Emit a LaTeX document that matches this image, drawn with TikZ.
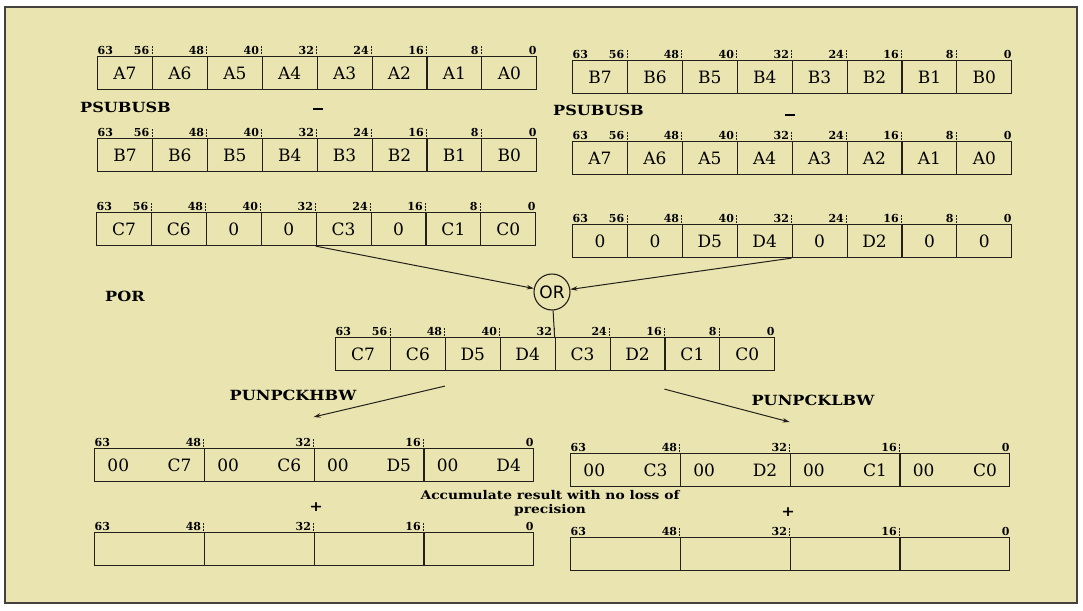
\documentclass[tikz,border=0pt]{standalone}
\usepackage{fontspec}
\setmainfont{DejaVu Serif}
\setsansfont{DejaVu Sans}
\newfontfamily\opfont[FakeStretch=1.15]{DejaVu Serif}
\usetikzlibrary{arrows.meta}

\definecolor{paper}{RGB}{234,229,176}
\definecolor{ink}{RGB}{35,32,28}

\tikzset{
    cell/.style={draw=ink, line width=1.1pt, minimum width=54.9pt, minimum height=33pt,
        inner sep=0pt, anchor=north west, font=\fontsize{17}{19}\selectfont},
    wcell/.style={cell, minimum width=109.8pt, text width=84pt},
    bitnum/.style={inner sep=0.5pt, font=\fontsize{11}{12}\selectfont\bfseries},
    tick/.style={draw=ink, line width=0.8pt, dash pattern=on 2pt off 1pt},
    opname/.style={inner sep=0pt, font=\fontsize{14}{16}\selectfont\opfont\bfseries},
    conn/.style={draw=ink, line width=1pt, -{Stealth[length=7pt,width=4.5pt]}},
}

% 64-bit register of eight bytes: name, left, top, cell texts
\newcommand{\bytereg}[4]{%
    \foreach \t [count=\i from 0] in {#4}{
        \node[cell] (#1\i) at ({#2+\i*54.9},#3) {\t};
    }
    \foreach \b [count=\i from 1] in {56,48,40,32,24,16,8}{
        \draw[tick] ([yshift=1.5pt]#1\i.north west) -- ([yshift=9.5pt]#1\i.north west);
        \node[bitnum, anchor=south east] (#1b\b) at ([xshift=-2pt,yshift=1pt]#1\i.north west) {\b};
    }
    \node[bitnum, anchor=south west] (#1b63) at ([yshift=1pt]#10.north west) {63};
    \node[bitnum, anchor=south east] (#1b0) at ([yshift=1pt]#17.north east) {0};
}
% 64-bit register of four words
\newcommand{\wordreg}[4]{%
    \foreach \t [count=\i from 0] in {#4}{
        \node[wcell] (#1\i) at ({#2+\i*109.8},#3) {\t};
    }
    \foreach \b [count=\i from 1] in {48,32,16}{
        \draw[tick] ([yshift=1.5pt]#1\i.north west) -- ([yshift=9.5pt]#1\i.north west);
        \node[bitnum, anchor=south east] (#1b\b) at ([xshift=-2pt,yshift=1pt]#1\i.north west) {\b};
    }
    \node[bitnum, anchor=south west] (#1b63) at ([yshift=1pt]#10.north west) {63};
    \node[bitnum, anchor=south east] (#1b0) at ([yshift=1pt]#13.north east) {0};
}

\begin{document}
\begin{tikzpicture}[x=1pt,y=-1pt]
        \useasboundingbox (0,0) rectangle (1083,610);
        \draw[fill=paper, draw=ink!85, line width=1.6pt] (5,7) rectangle (1077,603);
        % saturating subtractions
            \bytereg{ra}{97}{56}{A7,A6,A5,A4,A3,A2,A1,A0}
            \bytereg{rb}{572}{60}{B7,B6,B5,B4,B3,B2,B1,B0}
            \node[opname, anchor=west] (subl) at (80,107) {PSUBUSB};
            \node[opname] (minl) at (318,109) {\rule{10pt}{2.6pt}};
            \node[opname, anchor=west] (subr) at (553,110) {PSUBUSB};
            \node[opname] (minr) at (790,115) {\rule{10pt}{2.6pt}};
            \bytereg{rbb}{97}{138}{B7,B6,B5,B4,B3,B2,B1,B0}
            \bytereg{raa}{572}{141}{A7,A6,A5,A4,A3,A2,A1,A0}
            \bytereg{rc}{96}{212}{C7,C6,0,0,C3,0,C1,C0}
            \bytereg{rd}{572}{224}{0,0,D5,D4,0,D2,0,0}
        % or
            \node[draw=ink, circle, line width=1.1pt, minimum size=36pt, inner sep=0pt,
                font=\sffamily\fontsize{17}{19}\selectfont] (or) at (552,292) {OR};
            \draw[conn] (rc4.south west) -- (or);
            \draw[conn] (rd4.south west) -- (or);
            \node[opname, anchor=west] (por) at (105,296) {POR};
            \bytereg{rr}{335}{337}{C7,C6,D5,D4,C3,D2,C1,C0}
            \draw[draw=ink, line width=1pt] (or) -- (rr4.north west);
        % unpack
            \wordreg{rh}{94}{448}{00\hfill C7,00\hfill C6,00\hfill D5,00\hfill D4}
            \wordreg{rl}{570}{453}{00\hfill C3,00\hfill D2,00\hfill C1,00\hfill C0}
            \coordinate (hfrom) at ([yshift=-15pt]rr2.south west);
            \coordinate (hto) at ([yshift=31pt]rh2.north west);
            \coordinate (lfrom) at ([yshift=-18pt]rr6.south west);
            \coordinate (lto) at ([yshift=31pt]rl2.north west);
            \draw[conn] (hfrom) -- (hto);
            \draw[conn] (lfrom) -- (lto);
            \node[opname] (hlbl) at (293,395) {PUNPCKHBW};
            \node[opname] (llbl) at (813,400) {PUNPCKLBW};
        % accumulate
            \node[align=center, inner sep=0pt, font=\fontsize{12}{14.5}\selectfont\opfont\bfseries]
                (acc) at (550,503) {Accumulate result with no loss of\\precision};
            \node[opname] (plusl) at (316,507) {+};
            \node[opname] (plusr) at (788,512) {+};
            \wordreg{sh}{94}{532}{{},{},{},{}}
            \wordreg{sl}{570}{537}{{},{},{},{}}
\end{tikzpicture}
\end{document}
